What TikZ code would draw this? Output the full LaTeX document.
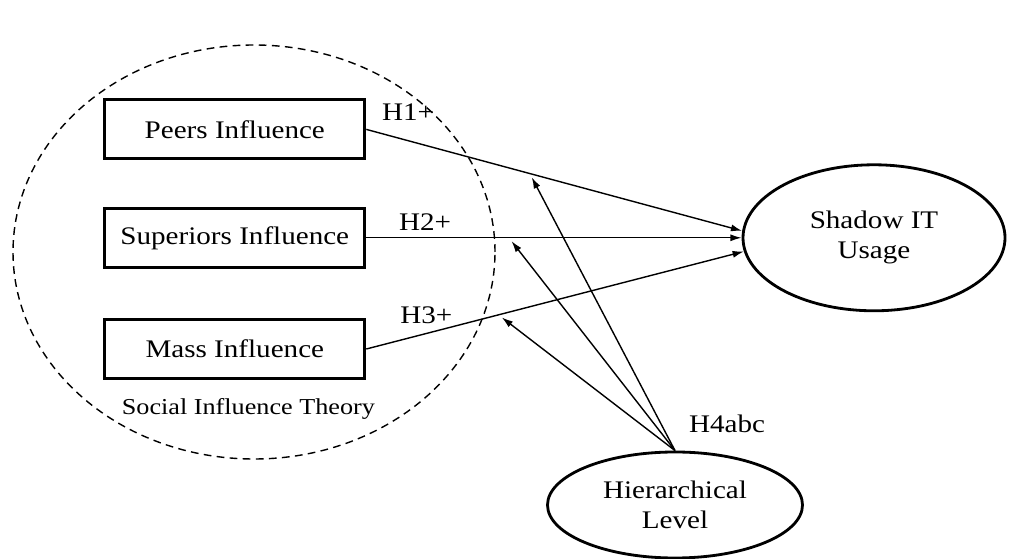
\documentclass[tikz,border=0pt]{standalone}
\usepackage{fontspec}
\setmainfont{Liberation Serif}[FakeStretch=1.15]
\usetikzlibrary{calc,arrows.meta,shapes.geometric}

\begin{document}
\begin{tikzpicture}[scale=1.0, font=\fontsize{18}{21.5}\selectfont,
  box/.style={draw, line width=2.1pt, minimum width=6.5cm, minimum height=1.475cm, inner sep=0pt},
  latent/.style={draw, ellipse, line width=2pt, align=center, inner sep=0pt},
  link/.style={line width=1pt, -{Latex[length=8pt,width=5pt]}},
  modlink/.style={link, shorten >=3pt}]
  \useasboundingbox (0,0) rectangle (25.35,13.975);
  \draw[dash pattern=on 5.5pt off 3.8pt, line width=1pt] (6.35,7.675) ellipse (6.025 and 5.175);
  \node[box] (peers) at (5.87,10.74) {Peers Influence};
  \node[box] (superiors) at (5.87,8.03) {Superiors Influence};
  \node[box] (mass) at (5.87,5.25) {Mass Influence};
  \node[latent, minimum width=6.55cm, minimum height=3.65cm] (shadow) at (21.85,8.03) {Shadow IT\\Usage};
  \node[latent, minimum width=6.375cm, minimum height=2.65cm] (hier) at (16.875,1.35) {Hierarchical\\Level};
  \draw[link] (peers.east) -- coordinate[pos=0.435] (p1) (shadow.177);
  \draw[link] (superiors.east) -- coordinate[pos=0.38] (p2) (shadow.west);
  \draw[link] (mass.east) -- coordinate[pos=0.35] (p3) (shadow.186);
  \foreach \t in {p1,p2,p3}
    \draw[modlink] (hier.north) -- (\t);
  \node (h1) at (10.2,11.175) {H1+};
  \node (h2) at (10.625,8.425) {H2+};
  \node (h3) at (10.66,6.1) {H3+};
  \node (h4) at (18.175,3.375) {H4abc};
  \node[font=\fontsize{16.2}{19}\selectfont] (sit) at (6.21,3.75) {Social Influence Theory};
\end{tikzpicture}
\end{document}
